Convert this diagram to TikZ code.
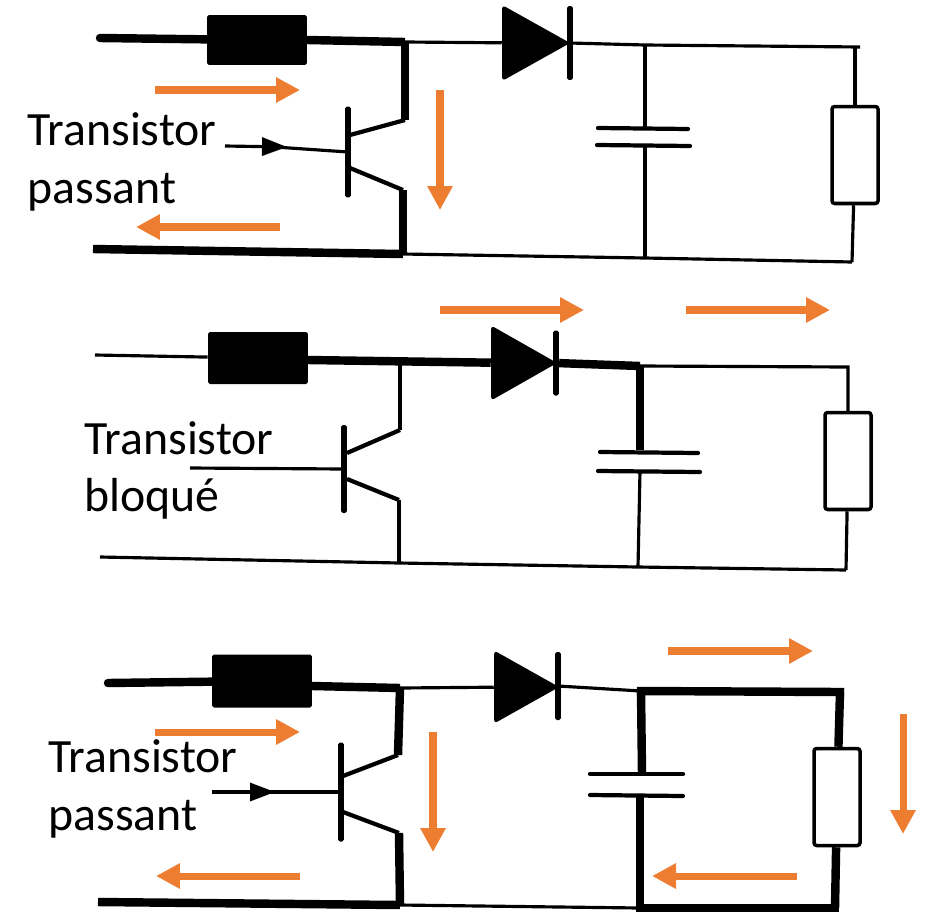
\documentclass[tikz,border=0pt]{standalone}
\usepackage{fontspec}
\setmainfont{Carlito}
\usetikzlibrary{arrows.meta, shapes.geometric}
\definecolor{flow}{HTML}{ED7D31}
\tikzset{
  wire/.style={line width=1.8pt},
  medium/.style={line width=2.4pt},
  heavy/.style={line width=4.8pt},
  plate/.style={line width=2.4pt, line cap=round},
  current/.style={line width=4pt, draw=flow, -{Triangle[length=0.48cm,width=0.48cm]}},
  basetip/.style={line width=1.8pt, -{Triangle[length=0.5cm,width=0.36cm]}},
  legend/.style={anchor=base west, inner sep=0pt, font=\fontsize{27.2}{27.2}\selectfont},
  choke/.style={fill=black, inner sep=0pt, rounded corners=1pt, minimum width=2cm},
  diodehead/.style={isosceles triangle, isosceles triangle stretches, shape border rotate=0, fill=black, inner sep=0pt, rounded corners=2pt, anchor=apex, minimum height=1.36cm, minimum width=1.52cm},
  load/.style={draw, line width=2pt, fill=white, inner sep=0pt, rounded corners=1.5pt, minimum width=0.92cm, minimum height=1.94cm},
  bar/.style={fill=black, inner sep=0pt, rounded corners=1pt, minimum width=3.2pt}
}
\begin{document}
\begin{tikzpicture}[x=0.02cm,y=-0.02cm]
\useasboundingbox (0,0) rectangle (925,916);

% transistor passant, top
\coordinate (in1) at (100,38);
\coordinate (out1) at (307,40);
\coordinate (top1) at (405,42);
\coordinate (cap1) at (645,45);
\coordinate (end1) at (860,47);
\coordinate (rt1) at (855,47);
\coordinate (gnd1) at (93,249);
\coordinate (bot1) at (403,254);
\coordinate (capb1) at (645,258);
\coordinate (rb1) at (852,262);
\coordinate (k1) at (405,120);
\coordinate (e1) at (403,190);
\coordinate (cu1) at (645,128);
\coordinate (cd1) at (645,146);
\node (ind1) [choke, minimum height=1cm] at (257,40) {};
\node (dio1) [diodehead] at (571,43) {};
\node (kbar1) [bar, minimum height=1.48cm] at (570,43) {};
\node (res1) [load] at (855,155) {};
\node (tr1) [bar, minimum height=1.82cm] at (348,152) {};
\coordinate (ba1) at (225,146);
\coordinate (bm1) at (287,147);
\coordinate (bn1) at (275,147);
\draw[heavy, line cap=round] (in1) -- (ind1);
\draw[heavy] (out1) -- (top1);
\draw[wire] (top1) -- (dio1);
\draw[wire] (kbar1) -- (cap1) -- (end1);
\draw[wire] (rt1) -- (res1);
\draw[wire] (res1) -- (rb1);
\draw[heavy] (gnd1) -- (bot1);
\draw[wire] (bot1) -- (capb1) -- (rb1);
\draw[wire] (cap1) -- (cu1);
\draw[wire] (cd1) -- (capb1);
\draw[plate] (598,128) -- (688,129);
\draw[plate] (597,145) -- (690,146);
\draw[heavy] (top1) -- (k1);
\draw[medium] (k1) -- (350,135);
\draw[medium] (e1) -- (350,168);
\draw[heavy] (e1) -- (bot1);
\draw[basetip] (ba1) -- (bm1);
\draw[wire] (bn1) -- (tr1);
\node (txt1a) [legend] at (27,145) {Transistor};
\node (txt1b) [legend] at (27,203) {passant};
\draw[current] (155,90) -- (300,90);
\draw[current] (280,227) -- (136,227);
\draw[current] (440,90) -- (440,210);

% transistor bloque, middle
\coordinate (in2) at (95,355);
\coordinate (out2) at (308,360);
\coordinate (top2) at (400,362);
\coordinate (cap2) at (640,366);
\coordinate (rt2) at (848,367);
\coordinate (gnd2) at (100,557);
\coordinate (bot2) at (399,563);
\coordinate (capb2) at (638,567);
\coordinate (rb2) at (846,570);
\coordinate (k2) at (400,430);
\coordinate (e2) at (399,500);
\coordinate (cu2) at (640,450);
\coordinate (cd2) at (640,471);
\node (ind2) [choke, minimum height=1.04cm] at (258,358) {};
\node (dio2) [diodehead, minimum height=1.32cm, minimum width=1.5cm] at (558,363) {};
\node (kbar2) [bar, minimum height=1.3cm] at (556,363) {};
\node (res2) [load] at (848,461) {};
\node (tr2) [bar, minimum height=1.76cm] at (344,469) {};
\coordinate (ba2) at (190,468);
\draw[wire] (in2) -- (ind2);
\draw[heavy] (out2) -- (dio2);
\draw[heavy] (kbar2) -- (cap2);
\draw[wire] (cap2) -- (rt2) -- (res2);
\draw[wire] (res2) -- (rb2);
\draw[wire] (gnd2) -- (bot2) -- (capb2) -- (rb2);
\draw[heavy] (cap2) -- (cu2);
\draw[wire] (cd2) -- (capb2);
\draw[plate] (600,452) -- (698,453);
\draw[plate] (598,471) -- (700,472);
\draw[wire] (top2) -- (k2);
\draw[medium] (k2) -- (347,453);
\draw[medium] (347,479) -- (e2);
\draw[wire] (e2) -- (bot2);
\draw[wire] (ba2) -- (tr2);
\node (txt2a) [legend] at (84,454) {Transistor};
\node (txt2b) [legend] at (84,511) {bloqué};
\draw[current] (440,310) -- (584,310);
\draw[current] (686,310) -- (830,310);

% transistor passant, bottom
\coordinate (in3) at (108,683);
\coordinate (out3) at (312,686);
\coordinate (top3) at (400,688);
\coordinate (cap3) at (641,691);
\coordinate (rt3) at (840,692);
\coordinate (gnd3) at (98,902);
\coordinate (bot3) at (400,905);
\coordinate (capb3) at (640,908);
\coordinate (rb3) at (835,908);
\coordinate (k3) at (398,755);
\coordinate (e3) at (399,833);
\coordinate (cu3) at (642,774);
\coordinate (cd3) at (640,796);
\node (ind3) [choke, minimum height=1.06cm] at (262,681) {};
\node (dio3) [diodehead, minimum height=1.3cm, minimum width=1.46cm] at (560,687) {};
\node (kbar3) [bar, minimum height=1.36cm] at (558,686) {};
\node (res3) [load] at (837,797) {};
\node (tr3) [bar, minimum height=1.98cm] at (341,792) {};
\coordinate (ba3) at (212,792);
\coordinate (bm3) at (275,792);
\coordinate (bn3) at (263,792);
\draw[heavy, line cap=round] (in3) -- (ind3);
\draw[heavy] (out3) -- (top3);
\draw[wire] (top3) -- (dio3);
\draw[wire] (kbar3) -- (cap3);
\draw[heavy, line cap=rect] (cap3) -- (rt3);
\draw[heavy] (rt3) -- (res3);
\draw[heavy] (res3) -- (rb3);
\draw[heavy] (gnd3) -- (bot3);
\draw[wire] (bot3) -- (capb3);
\draw[heavy, line cap=rect] (capb3) -- (rb3);
\draw[heavy] (cap3) -- (cu3);
\draw[heavy] (cd3) -- (capb3);
\draw[plate] (590,774) -- (683,774);
\draw[plate] (590,795) -- (683,796);
\draw[heavy] (top3) -- (k3);
\draw[medium] (k3) -- (343,776);
\draw[medium] (343,812) -- (e3);
\draw[heavy] (e3) -- (bot3);
\draw[basetip] (ba3) -- (bm3);
\draw[wire] (bn3) -- (tr3);
\node (txt3a) [legend] at (48,772) {Transistor};
\node (txt3b) [legend] at (48,830) {passant};
\draw[current] (668,651) -- (813,651);
\draw[current] (155,732) -- (300,732);
\draw[current] (300,876) -- (156,876);
\draw[current] (433,732) -- (433,852);
\draw[current] (797,876) -- (652,876);
\draw[current] (903,714) -- (903,834);
\end{tikzpicture}
\end{document}
